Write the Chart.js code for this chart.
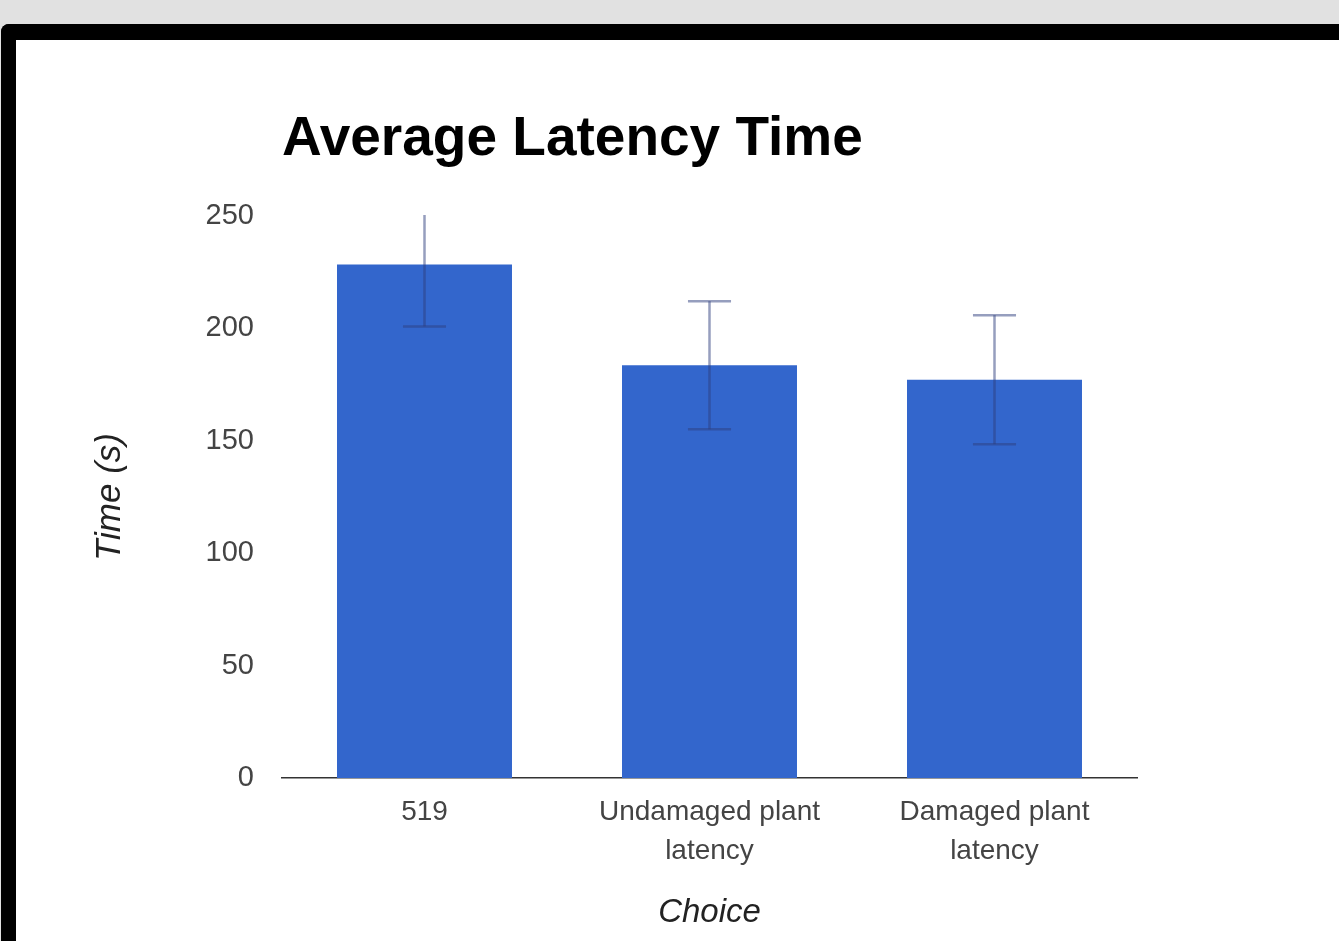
<!DOCTYPE html>
<html>
<head>
<meta charset="utf-8">
<script src="https://cdn.jsdelivr.net/npm/chart.js@4/dist/chart.umd.min.js"></script>
<style>
  html, body { margin: 0; padding: 0; width: 1339px; height: 941px; overflow: hidden; background: #e1e1e1; }
  #frame {
    position: absolute; left: 1px; top: 24px; width: 1400px; height: 1000px;
    border-left: 15px solid #000; border-top: 16px solid #000;
    border-top-left-radius: 8px; background: #fff;
  }
  #c { position: absolute; left: 0; top: 0; }
</style>
</head>
<body>
<div id="frame"></div>
<canvas id="c" width="1339" height="941"></canvas>
<script>
const categories = ['519', ['Undamaged plant', 'latency'], ['Damaged plant', 'latency']];
const latencyMeans = [228.4, 183.6, 177.2];
const latencyErrors = [27.5, 28.5, 28.7];
const chartTitle = 'Average Latency Time';
const xAxisTitle = 'Choice';
const yAxisTitle = 'Time (s)';

const errorBarPlugin = {
  id: 'errorBars',
  afterDatasetsDraw(chart) {
    const ctx = chart.ctx;
    const yScale = chart.scales.y;
    const meta = chart.getDatasetMeta(0);
    const area = chart.chartArea;
    ctx.save();
    ctx.beginPath();
    ctx.rect(area.left, area.top - 1, area.right - area.left, area.bottom - area.top + 1);
    ctx.clip();
    ctx.strokeStyle = 'rgba(45, 62, 125, 0.5)';
    meta.data.forEach((bar, i) => {
      const x = bar.x;
      const yHi = yScale.getPixelForValue(latencyMeans[i] + latencyErrors[i]);
      const yLo = yScale.getPixelForValue(latencyMeans[i] - latencyErrors[i]);
      const capHalf = bar.width * 0.123;
      ctx.lineWidth = 2.5;
      ctx.beginPath();
      ctx.moveTo(x, yHi);
      ctx.lineTo(x, yLo);
      ctx.stroke();
      ctx.beginPath();
      ctx.moveTo(x - capHalf, yHi);
      ctx.lineTo(x + capHalf, yHi);
      ctx.moveTo(x - capHalf, yLo);
      ctx.lineTo(x + capHalf, yLo);
      ctx.stroke();
    });
    ctx.restore();
  }
};

Chart.defaults.font.family = '"Liberation Sans", Arial, sans-serif';

new Chart(document.getElementById('c'), {
  type: 'bar',
  data: {
    labels: categories,
    datasets: [{
      data: latencyMeans,
      backgroundColor: '#3366cc',
      borderWidth: 0,
      barPercentage: 0.614,
      categoryPercentage: 1.0
    }]
  },
  options: {
    responsive: false,
    animation: false,
    layout: { padding: { left: 80, top: 40, right: 202, bottom: 0 } },
    plugins: {
      legend: { display: false },
      tooltip: { enabled: false },
      title: {
        display: true,
        text: chartTitle,
        align: 'start',
        fullSize: false,
        color: '#000',
        font: { size: 55, weight: 'bold', lineHeight: 1.2 },
        padding: { top: 67, bottom: 43 }
      }
    },
    scales: {
      x: {
        grid: { display: false, drawTicks: false },
        border: { display: true, color: '#333', width: 1.5 },
        ticks: { color: '#444', font: { size: 28, lineHeight: 1.39 }, padding: 15, maxRotation: 0, autoSkip: false },
        title: { display: true, text: xAxisTitle, color: '#222', font: { size: 33, style: 'italic', lineHeight: 1.2 }, padding: { top: 0, bottom: 8 } },
        afterFit(scale) { scale.height = 163; }
      },
      y: {
        min: 0,
        max: 250,
        grid: { display: false, drawTicks: false },
        border: { display: false },
        ticks: { stepSize: 50, color: '#444', font: { size: 29 }, padding: 28 },
        title: { display: true, text: yAxisTitle, color: '#222', font: { size: 35, style: 'italic', lineHeight: 1.2 }, padding: { top: 9, bottom: 0 } },
        afterFit(scale) { scale.width = 202; }
      }
    }
  },
  plugins: [errorBarPlugin]
});
</script>
</body>
</html>
